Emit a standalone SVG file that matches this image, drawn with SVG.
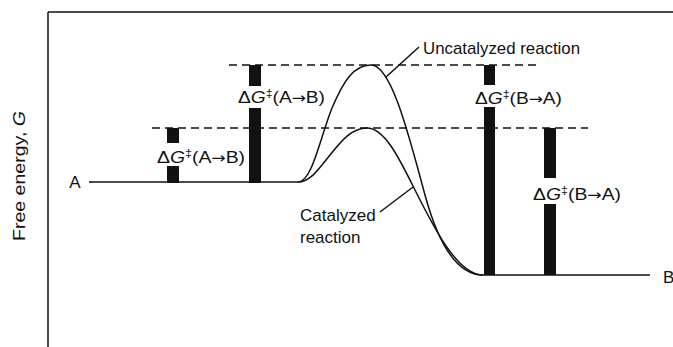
<svg xmlns="http://www.w3.org/2000/svg" width="673" height="347" viewBox="0 0 673 347">
<style>
text{font-family:"Liberation Sans","DejaVu Sans",Arial,sans-serif;fill:#111;font-size:17px}
.ln{stroke:#111;fill:none;stroke-width:1.5}
.dash{stroke:#111;fill:none;stroke-width:1.5;stroke-dasharray:8 5}
.bar{fill:#111}
.it{font-style:italic}
.sup{font-size:11px}
.arr{font-family:"DejaVu Sans",sans-serif;font-size:15px}
</style>
<rect width="673" height="347" fill="#fff"/>
<g id="frame">
<path class="ln" d="M48,12 H673 M48,12 V347" stroke-width="1.3"/>
<text transform="translate(25,176) rotate(-90)" text-anchor="middle" font-size="18.5" textLength="130" lengthAdjust="spacingAndGlyphs">Free energy, <tspan class="it">G</tspan></text>
</g>
<g id="connectors">
<path class="dash" d="M229,65 H540"/>
<path class="dash" d="M152,128 H588"/>
<path class="ln" d="M298,182 C312,182 320,138 332,108 C344,80 354,65 371,65 C392,65 410,140 425,195 C440,250 460,275 483,275" stroke-width="1.1"/>
<path class="ln" d="M298,182 C310,182 318,170 330,155 C342,140 352,128 367,128 C385,128 400,160 415,190 C435,230 458,275 483,275" stroke-width="2"/>
<path class="ln" d="M386,77 L419,47" stroke-width="1.3"/>
<path class="ln" d="M380,212 L413,187" stroke-width="1.3"/>
</g>
<g id="stateA">
<path class="ln" d="M89,182 H298"/>
<text x="75" y="188" text-anchor="middle">A</text>
</g>
<g id="stateB">
<path class="ln" d="M483,275 H650"/>
<text x="663" y="283">B</text>
</g>
<g id="barAB-cat">
<rect class="bar" x="167" y="128" width="12" height="15"/>
<rect class="bar" x="167" y="166" width="12" height="17"/>
<text x="157" y="163" textLength="88" lengthAdjust="spacingAndGlyphs">Δ<tspan class="it">G</tspan><tspan class="sup" dy="-6">‡</tspan><tspan dy="6">(A</tspan><tspan class="arr">→</tspan>B)</text>
</g>
<g id="barAB-uncat">
<rect class="bar" x="249" y="65" width="12" height="21"/>
<rect class="bar" x="249" y="108" width="12" height="75"/>
<text x="238" y="103" textLength="87" lengthAdjust="spacingAndGlyphs">Δ<tspan class="it">G</tspan><tspan class="sup" dy="-6">‡</tspan><tspan dy="6">(A</tspan><tspan class="arr">→</tspan>B)</text>
</g>
<g id="barBA-uncat">
<rect class="bar" x="484" y="65" width="11" height="20"/>
<rect class="bar" x="484" y="107" width="11" height="168"/>
<text x="475" y="104" textLength="87" lengthAdjust="spacingAndGlyphs">Δ<tspan class="it">G</tspan><tspan class="sup" dy="-6">‡</tspan><tspan dy="6">(B</tspan><tspan class="arr">→</tspan>A)</text>
</g>
<g id="barBA-cat">
<rect class="bar" x="544" y="128" width="12" height="50"/>
<rect class="bar" x="544" y="204" width="12" height="71"/>
<text x="533" y="200" textLength="88" lengthAdjust="spacingAndGlyphs">Δ<tspan class="it">G</tspan><tspan class="sup" dy="-6">‡</tspan><tspan dy="6">(B</tspan><tspan class="arr">→</tspan>A)</text>
</g>
<g id="label-uncat">
<text x="423" y="54" textLength="157" lengthAdjust="spacingAndGlyphs">Uncatalyzed reaction</text>
</g>
<g id="label-cat">
<text x="300" y="221">Catalyzed</text>
<text x="300" y="243">reaction</text>
</g>
</svg>
